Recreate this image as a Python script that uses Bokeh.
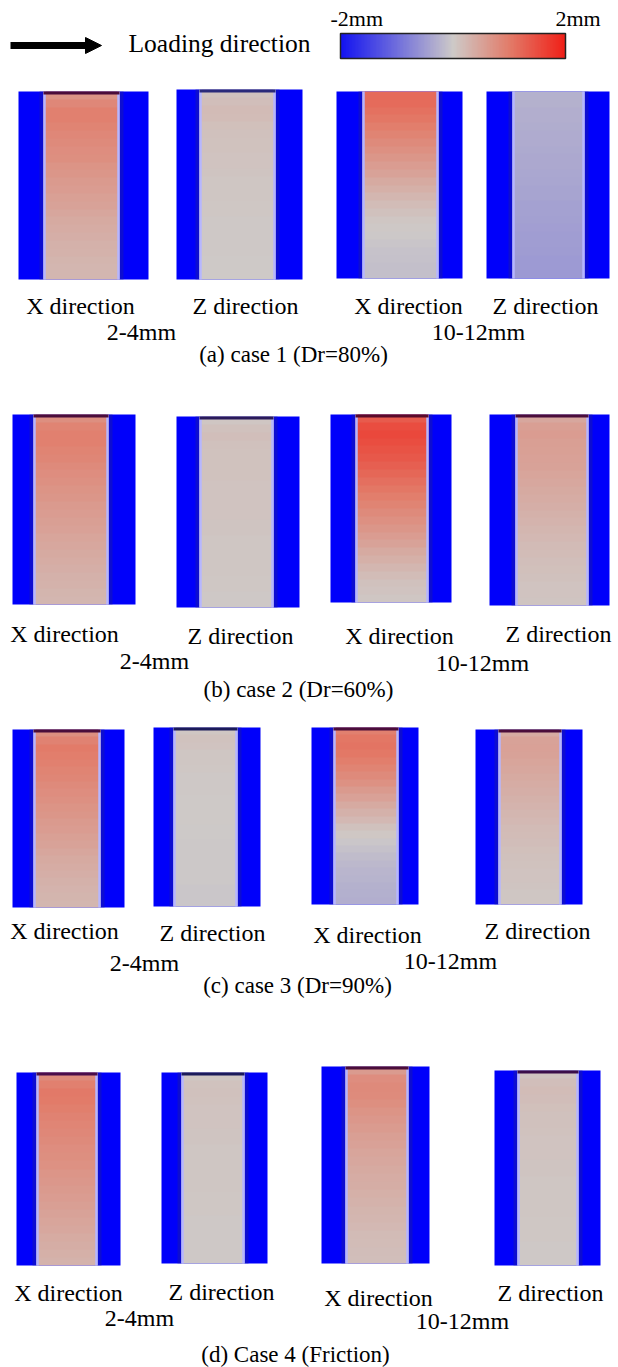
import numpy as np
from bokeh.plotting import figure
from bokeh.models import Range1d, Arrow, NormalHead, LinearColorMapper
from bokeh.core.properties import value
from bokeh.embed import file_html
from bokeh.resources import INLINE

# ---------------- data ----------------
scale_min, scale_max = -2.0, 2.0
scale_labels = ["-2mm", "2mm"]
legend_label = "Loading direction"
direction_labels = ["X direction", "Z direction", "X direction", "Z direction"]
range_labels = ["2-4mm", "10-12mm"]
case_titles = ["(a) case 1 (Dr=80%)", "(b) case 2 (Dr=60%)",
               "(c) case 3 (Dr=90%)", "(d) Case 4 (Friction)"]

# displacement (mm) read band by band, top -> bottom, for each panel
# order of panels: X 2-4mm, Z 2-4mm, X 10-12mm, Z 10-12mm
case1_disp = [
    [0.70, 0.85, 0.95, 0.95, 0.90, 0.85, 0.82, 0.78, 0.75, 0.70, 0.66, 0.62,
     0.58, 0.54, 0.50, 0.46, 0.42, 0.38, 0.35, 0.32, 0.30, 0.28, 0.26, 0.25],
    [0.10, 0.15, 0.20, 0.18, 0.14, 0.12, 0.10, 0.10, 0.08, 0.08, 0.07, 0.06,
     0.05, 0.05, 0.04, 0.04, 0.03, 0.03, 0.02, 0.02, 0.02, 0.01, 0.01, 0.00],
    [1.20, 1.18, 1.12, 1.05, 0.98, 0.90, 0.82, 0.74, 0.66, 0.58, 0.50, 0.42,
     0.34, 0.26, 0.18, 0.12, 0.06, 0.02, -0.02, -0.05, -0.08, -0.10, -0.12, -0.12],
    [-0.28, -0.28, -0.30, -0.31, -0.32, -0.33, -0.34, -0.35, -0.36, -0.37, -0.38, -0.40,
     -0.41, -0.42, -0.44, -0.45, -0.46, -0.48, -0.49, -0.50, -0.51, -0.52, -0.53, -0.54],
]
case2_disp = [
    [0.75, 0.90, 0.95, 0.95, 0.90, 0.86, 0.82, 0.78, 0.74, 0.70, 0.66, 0.62,
     0.58, 0.55, 0.52, 0.48, 0.45, 0.42, 0.38, 0.35, 0.32, 0.30, 0.28, 0.26],
    [0.05, 0.12, 0.15, 0.12, 0.10, 0.10, 0.10, 0.10, 0.09, 0.09, 0.08, 0.08,
     0.08, 0.07, 0.07, 0.06, 0.06, 0.05, 0.05, 0.05, 0.04, 0.04, 0.03, 0.03],
    [1.35, 1.50, 1.55, 1.50, 1.45, 1.38, 1.30, 1.22, 1.14, 1.06, 0.98, 0.90,
     0.82, 0.74, 0.66, 0.58, 0.50, 0.42, 0.34, 0.26, 0.18, 0.12, 0.08, 0.05],
    [0.45, 0.55, 0.58, 0.56, 0.54, 0.52, 0.50, 0.47, 0.44, 0.41, 0.38, 0.35,
     0.32, 0.29, 0.26, 0.23, 0.20, 0.18, 0.15, 0.13, 0.11, 0.09, 0.08, 0.07],
]
case3_disp = [
    [0.75, 0.92, 1.00, 0.98, 0.94, 0.90, 0.86, 0.82, 0.78, 0.74, 0.70, 0.66,
     0.62, 0.58, 0.54, 0.50, 0.46, 0.42, 0.38, 0.35, 0.32, 0.29, 0.27, 0.25],
    [0.05, 0.10, 0.08, 0.06, 0.05, 0.04, 0.03, 0.02, 0.02, 0.01, 0.00, 0.00,
     0.00, -0.01, -0.01, -0.02, -0.02, -0.02, -0.03, -0.03, -0.03, -0.04, -0.04, -0.04],
    [0.95, 1.05, 1.08, 1.04, 0.98, 0.90, 0.82, 0.72, 0.62, 0.52, 0.42, 0.32,
     0.22, 0.12, 0.04, -0.04, -0.10, -0.15, -0.19, -0.22, -0.25, -0.27, -0.29, -0.30],
    [0.40, 0.50, 0.52, 0.50, 0.47, 0.44, 0.41, 0.38, 0.35, 0.32, 0.29, 0.26,
     0.23, 0.20, 0.18, 0.16, 0.14, 0.12, 0.10, 0.09, 0.08, 0.07, 0.06, 0.05],
]
case4_disp = [
    [0.80, 0.95, 1.02, 1.00, 0.96, 0.92, 0.88, 0.85, 0.82, 0.78, 0.75, 0.72,
     0.68, 0.65, 0.62, 0.58, 0.55, 0.51, 0.48, 0.44, 0.40, 0.36, 0.33, 0.30],
    [0.05, 0.10, 0.12, 0.10, 0.09, 0.08, 0.08, 0.07, 0.07, 0.06, 0.06, 0.06,
     0.05, 0.05, 0.05, 0.04, 0.04, 0.04, 0.03, 0.03, 0.03, 0.02, 0.02, 0.02],
    [0.60, 0.78, 0.82, 0.80, 0.75, 0.70, 0.65, 0.60, 0.56, 0.52, 0.48, 0.45,
     0.42, 0.39, 0.36, 0.33, 0.30, 0.27, 0.25, 0.22, 0.20, 0.18, 0.16, 0.15],
    [0.08, 0.15, 0.18, 0.16, 0.14, 0.12, 0.11, 0.10, 0.09, 0.08, 0.08, 0.07,
     0.07, 0.06, 0.06, 0.05, 0.05, 0.05, 0.04, 0.04, 0.04, 0.03, 0.03, 0.03],
]
all_disp = [case1_disp, case2_disp, case3_disp, case4_disp]

# ---------------- layout (pixel positions) ----------------
outer_boxes = [
    [(18, 148, 91, 279), (176, 302, 89, 279), (336, 462, 91, 278), (486, 609, 91, 278)],
    [(12, 135, 414, 604), (176, 299, 416, 607), (330, 451, 414, 602), (489, 609, 414, 605)],
    [(12, 124, 729, 907), (153, 260, 727, 906), (311, 418, 727, 904), (475, 582, 729, 904)],
    [(16, 120, 1072, 1265), (161, 267, 1072, 1263), (321, 429, 1066, 1263), (494, 600, 1070, 1265)],
]
inner_x = [
    [(43, 119), (199, 275), (362, 438), (512, 584)],
    [(33, 108), (199, 273), (355, 428), (515, 588)],
    [(33, 100), (173, 237), (333, 398), (498, 561)],
    [(36, 97), (181, 244), (345, 408), (517, 578)],
]
top_strip = [
    ["#4a0d3a", "#2a2a7a", None, None],
    ["#4a0d3a", "#2a1a5a", "#5a0a2a", "#4a0d3a"],
    ["#4a0d3a", "#1a1a5a", "#4a0d3a", "#4a0d3a"],
    ["#4a0d4a", "#1a1a5a", "#4a0d3a", "#3a0d4a"],
]
dir_x = [[80, 245, 408, 545], [64, 240, 399, 558], [64, 212, 367, 537], [68, 221, 378, 550]]
dir_y = [[305, 305, 305, 305], [633, 635, 635, 633], [930, 932, 934, 930], [1292, 1291, 1297, 1292]]
rng_x = [[141, 478], [154, 482], [144, 450], [139, 462]]
rng_y = [[331, 331], [660, 662], [962, 960], [1317, 1320]]
title_x = [293, 298, 297, 295]
title_y = [354, 689, 985, 1354]

# ---------------- palette ----------------
def make_palette(n=256):
    stops = [(0.0, (20, 20, 240)), (0.5, (206, 202, 200)),
             (0.75, (226, 124, 106)), (1.0, (240, 32, 24))]
    cols = []
    for i in range(n):
        t = i / (n - 1)
        for (t0, c0), (t1, c1) in zip(stops[:-1], stops[1:]):
            if t0 <= t <= t1:
                f = (t - t0) / (t1 - t0)
                c = [a + (b - a) * f for a, b in zip(c0, c1)]
                break
        cols.append("#%02x%02x%02x" % tuple(int(round(v)) for v in c))
    return cols

mapper = LinearColorMapper(palette=make_palette(), low=scale_min, high=scale_max)

FONT = value("Liberation Serif")
BLUE = "#0000fa"

p = figure(width=618, height=1367, x_range=Range1d(0, 618), y_range=Range1d(1367, 0),
           output_backend="svg", toolbar_location=None, min_border=0)
p.axis.visible = False
p.grid.visible = False
p.outline_line_color = None
p.background_fill_color = "white"
p.border_fill_color = "white"

# ---- header ----
p.add_layout(Arrow(end=NormalHead(size=16, fill_color="black", line_color="black"),
                   x_start=10, y_start=45, x_end=101, y_end=45,
                   line_width=7, line_color="black"))
p.text(x=[128], y=[43], text=[legend_label], text_font=FONT, text_font_size="25.5px",
       text_align="left", text_baseline="alphabetic", text_color="black")

# color scale bar
cb_x0, cb_x1, cb_y0, cb_y1 = 340, 565, 33, 58
cb_vals = np.linspace(scale_min, scale_max, 150)[None, :]
p.image(image=[cb_vals], x=cb_x0, y=cb_y0, dw=cb_x1 - cb_x0, dh=cb_y1 - cb_y0,
        color_mapper=mapper)
p.quad(left=[cb_x0], right=[cb_x1], top=[cb_y0], bottom=[cb_y1], fill_color=None,
       line_color="#222222", line_width=1.5)
p.text(x=[330, 555], y=[18, 18], text=scale_labels, text_font=FONT, text_font_size="22px",
       text_align="left", text_baseline="alphabetic", text_color="black")

# ---- panels ----
for r in range(4):
    for c in range(4):
        x0, x1, y0, y1 = outer_boxes[r][c]
        sx0, sx1 = inner_x[r][c]
        p.quad(left=[x0], right=[x1], top=[y0], bottom=[y1], fill_color=BLUE, line_color=None)
        # dark shading next to specimen edges
        p.quad(left=[sx0 - 4, sx1], right=[sx0, sx1 + 4], top=[y0, y0], bottom=[y1, y1],
               fill_color="#1c1ca0", fill_alpha=0.45, line_color=None)
        vals = np.array(all_disp[r][c])[:, None]
        p.image(image=[vals], x=sx0, y=y0, dw=sx1 - sx0, dh=y1 - y0, color_mapper=mapper)
        # light rim of specimen
        p.segment(x0=[sx0 + 1, sx1 - 1], y0=[y0, y0], x1=[sx0 + 1, sx1 - 1], y1=[y1, y1],
                  line_color="#b6b6ff", line_width=2.5)
        if top_strip[r][c]:
            p.quad(left=[sx0], right=[sx1], top=[y0], bottom=[y0 + 3],
                   fill_color=top_strip[r][c], line_color=None)

    p.text(x=dir_x[r], y=dir_y[r], text=direction_labels, text_font=FONT,
           text_font_size="24px", text_align="center", text_baseline="alphabetic",
           text_color="black")
    p.text(x=rng_x[r], y=rng_y[r], text=range_labels, text_font=FONT,
           text_font_size="24px", text_align="center", text_baseline="alphabetic",
           text_color="black")
    p.text(x=[title_x[r]], y=[title_y[r]], text=[case_titles[r]], text_font=FONT,
           text_font_size="23px", text_align="center", text_baseline="alphabetic",
           text_color="black")

open("out.html", "w").write(file_html(p, INLINE))
